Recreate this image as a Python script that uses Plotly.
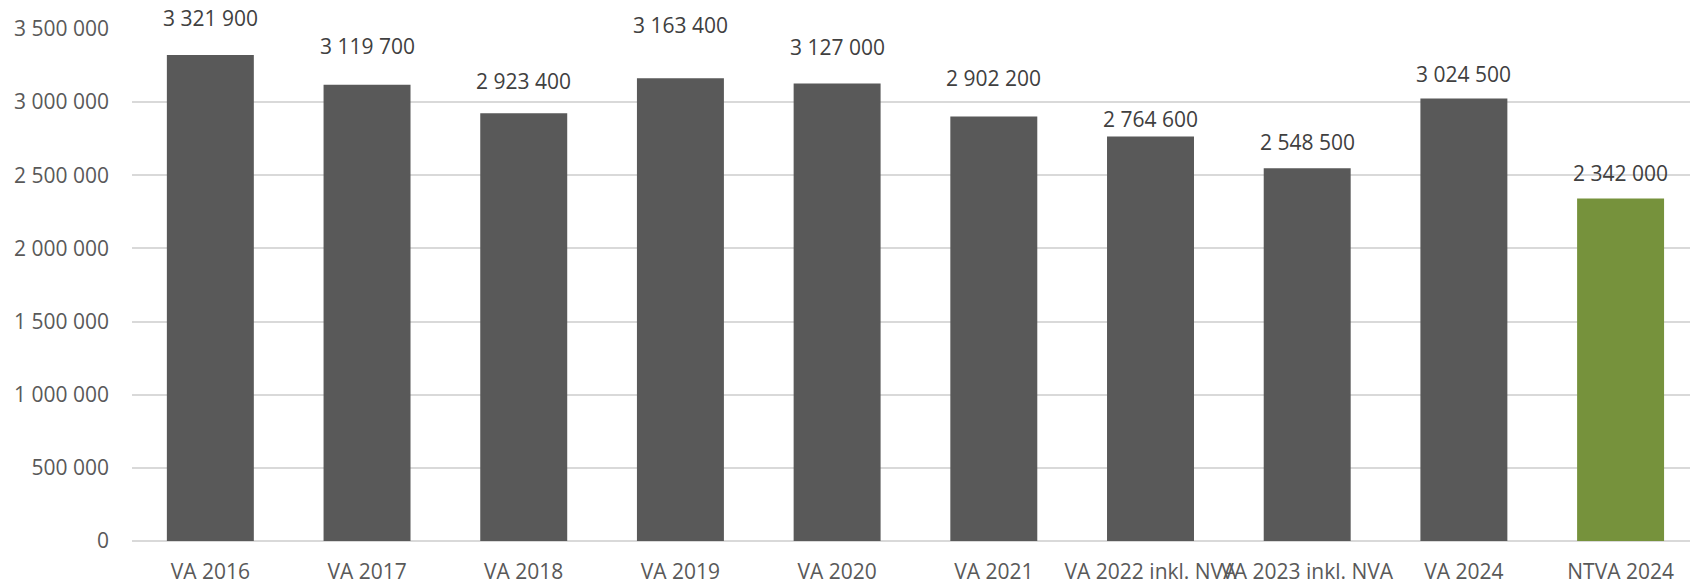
import plotly.graph_objects as go

# ── DATA ────────────────────────────────────────────────────────────────────
categories = ["VA 2016", "VA 2017", "VA 2018", "VA 2019", "VA 2020",
              "VA 2021", "VA 2022 inkl. NVA", "VA 2023 inkl. NVA", "VA 2024", "NTVA 2024"]
values = [3321900, 3119700, 2923400, 3163400, 3127000,
          2902200, 2764600, 2548500, 3024500, 2342000]
tick_vals = [0, 500000, 1000000, 1500000, 2000000, 2500000, 3000000, 3500000]

# ── STYLE ───────────────────────────────────────────────────────────────────
GREY = "#595959"
GREEN = "#76923C"
bar_colors = [GREY] * 9 + [GREEN]
# label lift above each bar top (px), labels were hand-placed in the original
label_lift = [37, 39, 32, 53, 37, 38, 18, 26, 25, 25]
FONT = "Open Sans, Noto Sans, sans-serif"


def fmt(v):
    return f"{v:,}".replace(",", " ")


fig = go.Figure(go.Bar(
    x=categories, y=values,
    marker_color=bar_colors,
    marker_line_width=0,
    width=0.555,
))

for cat, v, lift in zip(categories, values, label_lift):
    fig.add_annotation(
        x=cat, y=v, text=fmt(v), showarrow=False,
        yanchor="middle", yshift=lift,
        font=dict(family=FONT, size=21, color="#404040"),
    )

fig.update_layout(
    width=1690, height=584,
    margin=dict(l=132, r=0, t=29, b=43),
    paper_bgcolor="white", plot_bgcolor="white",
    showlegend=False,
    separators=", ",
    font=dict(family=FONT, size=21, color=GREY),
    xaxis=dict(
        range=[-0.5, 9.443], tickangle=0, showgrid=False, zeroline=False,
        showline=False, ticks="", ticklabelstandoff=16, automargin=False,
        tickfont=dict(family=FONT, size=21, color=GREY),
    ),
    yaxis=dict(
        range=[0, 3500000], tickvals=tick_vals,
        ticktext=[fmt(t) for t in tick_vals],
        showgrid=True, gridcolor="#D9D9D9", gridwidth=1.5,
        zeroline=True, zerolinecolor="#D9D9D9", zerolinewidth=1.5,
        ticks="", ticklabelstandoff=22, automargin=False,
        tickfont=dict(family=FONT, size=21, color=GREY),
    ),
)

fig.write_html("out.html", config={"displayModeBar": False},
               post_script="document.body.style.margin='0';")
